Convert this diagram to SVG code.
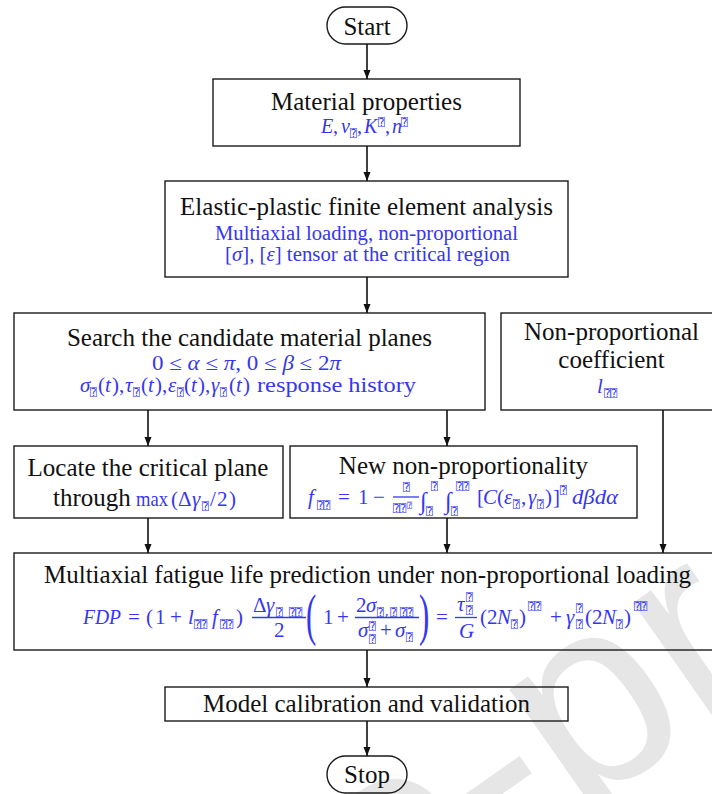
<svg xmlns="http://www.w3.org/2000/svg" width="712" height="794" viewBox="0 0 712 794">
<defs>
<style>
.box{fill:none;stroke:#1a1a1a;stroke-width:1.4}
.t{font-family:"Liberation Serif","Times New Roman",serif;font-size:25px;fill:#111;text-anchor:middle}
.b{font-family:"Liberation Serif","Times New Roman",serif;font-size:20px;fill:#3636f0}
.f{font-size:21px}
.i{font-style:italic}
.q{font-family:"DejaVu Sans Mono","DejaVu Sans",monospace;font-size:11px;font-style:normal}
.bar{stroke:#3636f0;stroke-width:1.3}
.c{stroke:#111;stroke-width:1.6;fill:none;marker-end:url(#ah)}
.wm{font-family:"Liberation Sans",Arial,sans-serif;font-size:270px;fill:#e6e6e6}
</style>
<marker id="ah" markerWidth="10" markerHeight="8" refX="9" refY="4" orient="auto" markerUnits="userSpaceOnUse">
<path d="M0,0.5 L9,4 L0,7.5 Z" fill="#111"/>
</marker>
</defs>
<rect width="712" height="794" fill="#fff"/>
<text class="wm" transform="translate(-628,1660) rotate(-35)">Journal Pre-proof</text>

<g id="n-start">
<rect class="box" x="327" y="7" width="80" height="37" rx="18.5"/>
<text class="t" x="367" y="35">Start</text>
</g>

<g id="n-material">
<rect class="box" x="213" y="79" width="307" height="67"/>
<text class="t" x="366.5" y="110">Material properties</text>
<text class="b"><tspan class="i" x="321" y="133">E</tspan><tspan x="333" y="133">,</tspan><tspan class="i" x="341" y="133">ν</tspan><tspan class="q" x="350" y="137">⍰</tspan><tspan x="357" y="133">,</tspan><tspan class="i" x="364" y="133">K</tspan><tspan class="q" x="378" y="126">⍰</tspan><tspan x="385" y="133">,</tspan><tspan class="i" x="392" y="133">n</tspan><tspan class="q" x="401" y="126">⍰</tspan></text>
</g>

<g id="n-fea">
<rect class="box" x="165" y="181" width="403" height="96"/>
<text class="t" x="366.5" y="215">Elastic-plastic finite element analysis</text>
<text class="b" x="215" y="240" textLength="303" lengthAdjust="spacingAndGlyphs">Multiaxial loading, non-proportional</text>
<text class="b" x="225" y="261" textLength="285" lengthAdjust="spacingAndGlyphs">[<tspan class="i">σ</tspan>], [<tspan class="i">ε</tspan>] tensor at the critical region</text>
</g>

<g id="n-search">
<rect class="box" x="14" y="313" width="471" height="97"/>
<text class="t" x="249.5" y="346">Search the candidate material planes</text>
<text class="b" x="152" y="370" textLength="189" lengthAdjust="spacingAndGlyphs">0 ≤ <tspan class="i">α</tspan> ≤ <tspan class="i">π</tspan>, 0 ≤ <tspan class="i">β</tspan> ≤ 2<tspan class="i">π</tspan></text>
<text class="b f"><tspan class="i" x="80" y="392">σ</tspan><tspan class="q" x="90" y="396">⍰</tspan><tspan x="98" y="392">(</tspan><tspan class="i" x="105" y="392">t</tspan><tspan x="112" y="392">)</tspan><tspan x="119" y="392">,</tspan><tspan class="i" x="125" y="392">τ</tspan><tspan class="q" x="133" y="396">⍰</tspan><tspan x="141" y="392">(</tspan><tspan class="i" x="148" y="392">t</tspan><tspan x="155" y="392">)</tspan><tspan x="162" y="392">,</tspan><tspan class="i" x="168" y="392">ε</tspan><tspan class="q" x="177" y="396">⍰</tspan><tspan x="184" y="392">(</tspan><tspan class="i" x="191" y="392">t</tspan><tspan x="198" y="392">)</tspan><tspan x="205" y="392">,</tspan><tspan class="i" x="211" y="392">γ</tspan><tspan class="q" x="220" y="396">⍰</tspan><tspan x="229" y="392">(</tspan><tspan class="i" x="236" y="392">t</tspan><tspan x="243" y="392">)</tspan></text>
<text class="b" x="257" y="392" textLength="159" lengthAdjust="spacingAndGlyphs">response history</text>
</g>

<g id="n-coef">
<rect class="box" x="501" y="313" width="221" height="97"/>
<text class="t" x="611.5" y="340">Non-proportional</text>
<text class="t" x="611.5" y="368">coefficient</text>
<text class="b f"><tspan class="i" x="597" y="393">l</tspan><tspan class="q" x="604" y="397">⍰⍰</tspan></text>
</g>

<g id="n-locate">
<rect class="box" x="14" y="446" width="269" height="72"/>
<text class="t" x="148" y="476">Locate the critical plane</text>
<text class="t" x="53" y="506" style="text-anchor:start">through</text>
<text class="b f"><tspan x="136" y="506" textLength="32" lengthAdjust="spacingAndGlyphs">max</tspan><tspan x="171" y="506">(</tspan><tspan x="178" y="506">Δ</tspan><tspan class="i" x="192" y="506">γ</tspan><tspan class="q" x="202" y="510">⍰</tspan><tspan x="210" y="506">/</tspan><tspan x="217" y="506">2</tspan><tspan x="229" y="506">)</tspan></text>
</g>

<g id="n-newnp">
<rect class="box" x="290" y="446" width="347" height="72"/>
<text class="t" x="463.5" y="474">New non-proportionality</text>
<text class="b f">
<tspan class="i" x="308" y="504">f</tspan><tspan class="q" x="317" y="509">⍰⍰</tspan>
<tspan x="338" y="504">=</tspan><tspan x="358" y="504">1</tspan><tspan x="373" y="504">−</tspan>
<tspan class="q" x="403" y="491">⍰</tspan>
<tspan class="q" x="393" y="512">⍰⍰</tspan><tspan class="q" x="407" y="508" style="font-size:8px">⍰</tspan>
<tspan class="i" x="420" y="509" style="font-size:24px">∫</tspan><tspan class="q" x="431" y="490">⍰</tspan><tspan class="q" x="426" y="515">⍰</tspan>
<tspan class="i" x="445" y="509" style="font-size:24px">∫</tspan><tspan class="q" x="456" y="490">⍰⍰</tspan><tspan class="q" x="451" y="515">⍰</tspan>
<tspan x="477" y="504">[</tspan><tspan class="i" x="483" y="504">C</tspan><tspan x="497" y="504">(</tspan><tspan class="i" x="504" y="504">ε</tspan><tspan class="q" x="513" y="508">⍰</tspan><tspan x="521" y="504">,</tspan><tspan class="i" x="528" y="504">γ</tspan><tspan class="q" x="537" y="508">⍰</tspan><tspan x="545" y="504">)</tspan><tspan x="553" y="504">]</tspan><tspan class="q" x="560" y="494">⍰</tspan>
</text>
<text class="b f i" x="572" y="504" textLength="46" lengthAdjust="spacingAndGlyphs">dβdα</text>
<line class="bar" x1="393" y1="497" x2="419" y2="497"/>
</g>

<g id="n-multiaxial">
<rect class="box" x="14" y="553" width="707" height="97"/>
<text class="t" x="367.5" y="583">Multiaxial fatigue life prediction under non-proportional loading</text>
<text class="b f i" x="83" y="624" textLength="38" lengthAdjust="spacingAndGlyphs">FDP</text>
<text class="b f">
<tspan x="128" y="624">=</tspan>
<tspan x="146" y="624">(</tspan><tspan x="155" y="624">1</tspan><tspan x="170" y="624">+</tspan>
<tspan class="i" x="188" y="624">l</tspan><tspan class="q" x="194" y="628">⍰⍰</tspan>
<tspan class="i" x="212" y="624">f</tspan><tspan class="q" x="220" y="628">⍰⍰</tspan>
<tspan x="236" y="624">)</tspan>
<tspan x="253" y="612">Δ</tspan><tspan class="i" x="266" y="612">γ</tspan><tspan class="q" x="276" y="616">⍰</tspan><tspan class="q" x="289" y="616">⍰⍰</tspan>
<tspan x="274" y="637">2</tspan>
<tspan x="323" y="624">1</tspan><tspan x="337" y="624">+</tspan>
<tspan x="356" y="612">2</tspan><tspan class="i" x="366" y="612">σ</tspan><tspan class="q" x="377" y="616">⍰,⍰</tspan><tspan class="q" x="400" y="616">⍰⍰</tspan>
<tspan class="i" x="358" y="637">σ</tspan><tspan class="q" x="369" y="630">⍰</tspan><tspan class="q" x="369" y="643">⍰</tspan>
<tspan x="380" y="637">+</tspan><tspan class="i" x="395" y="637">σ</tspan><tspan class="q" x="406" y="641">⍰</tspan>
<tspan x="436" y="624">=</tspan>
<tspan class="i" x="457" y="611">τ</tspan><tspan class="q" x="466" y="601">⍰</tspan><tspan class="q" x="466" y="614">⍰</tspan>
<tspan class="i" x="459" y="638">G</tspan>
<tspan x="480" y="624">(</tspan><tspan x="487" y="624">2</tspan><tspan class="i" x="497" y="624">N</tspan><tspan class="q" x="511" y="628">⍰</tspan><tspan x="519" y="624">)</tspan><tspan class="q" x="528" y="610">⍰⍰</tspan>
<tspan x="550" y="624">+</tspan>
<tspan class="i" x="566" y="624">γ</tspan><tspan class="q" x="576" y="612">⍰</tspan><tspan class="q" x="576" y="628">⍰</tspan>
<tspan x="585" y="624">(</tspan><tspan x="592" y="624">2</tspan><tspan class="i" x="602" y="624">N</tspan><tspan class="q" x="616" y="628">⍰</tspan><tspan x="624" y="624">)</tspan><tspan class="q" x="634" y="610">⍰⍰</tspan>
</text>
<text class="b" transform="translate(306,634) scale(0.55,1)" style="font-size:56px">(</text>
<text class="b" transform="translate(419,634) scale(0.55,1)" style="font-size:56px">)</text>
<line class="bar" x1="252" y1="617.5" x2="306" y2="617.5"/>
<line class="bar" x1="355" y1="617.5" x2="419" y2="617.5"/>
<line class="bar" x1="455" y1="617.5" x2="477" y2="617.5"/>
</g>

<g id="n-model">
<rect class="box" x="165" y="687" width="403" height="34"/>
<text class="t" x="366.5" y="712">Model calibration and validation</text>
</g>

<g id="n-stop">
<rect class="box" x="327" y="756" width="80" height="37" rx="18.5"/>
<text class="t" x="367" y="783">Stop</text>
</g>

<g id="connectors">
<line class="c" x1="367" y1="44" x2="367" y2="79"/>
<line class="c" x1="367" y1="146" x2="367" y2="181"/>
<line class="c" x1="367" y1="277" x2="367" y2="313"/>
<line class="c" x1="148" y1="410" x2="148" y2="446"/>
<line class="c" x1="447" y1="410" x2="447" y2="446"/>
<line class="c" x1="663" y1="410" x2="663" y2="553"/>
<line class="c" x1="148" y1="518" x2="148" y2="553"/>
<line class="c" x1="447" y1="518" x2="447" y2="553"/>
<line class="c" x1="367" y1="650" x2="367" y2="687"/>
<line class="c" x1="367" y1="721" x2="367" y2="756"/>
</g>
</svg>
